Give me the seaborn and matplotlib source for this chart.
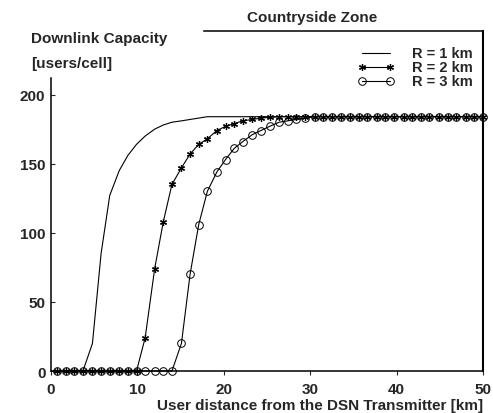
"""
Downlink capacity vs user distance, countryside zone.
"""
import pandas as pd
import seaborn as sns
import matplotlib
matplotlib.use("Agg")
import matplotlib.pyplot as plt

# distance grid [km]
distance = [0.7, 1.7, 2.7, 3.7, 4.8, 5.8, 6.8, 7.9, 8.9, 9.9,
            10.9, 12.0, 13.0, 14.0, 15.1, 16.1, 17.1, 18.1, 19.2, 20.2,
            21.2, 22.2, 23.3, 24.3, 25.3, 26.4, 27.4, 28.4, 29.4, 30.5,
            31.5, 32.5, 33.6, 34.6, 35.6, 36.6, 37.7, 38.7, 39.7, 40.8,
            41.8, 42.8, 43.8, 44.9, 45.9, 46.9, 48.0, 49.0, 50.0]

# capacity [users/cell]
cap_r1 = [0, 0, 0, 0, 20, 85, 127, 145, 156, 164,
          170, 175, 178, 180, 181, 182, 183] + [184] * 32
cap_r2 = [0] * 10 + [24, 74, 108, 135, 147, 157, 164, 168, 174, 177,
                     179, 181, 182, 183, 183.5] + [184] * 24
cap_r3 = [0] * 14 + [20, 70, 106, 130, 144, 153, 161, 166, 171, 174,
                     177, 180, 181, 182, 183] + [184] * 20

labels = ["R = 1 km", "R = 2 km", "R = 3 km"]


def main():
    sns.set_style("ticks")
    plt.rcParams["font.family"] = ["Liberation Sans", "DejaVu Sans"]
    plt.rcParams["font.weight"] = "bold"
    fs = 11

    fig = plt.figure(figsize=(4.93, 4.14), dpi=100)
    ax = fig.add_axes([0.1034, 0.1014, 0.8763, 0.8213])

    df = pd.DataFrame({"d": distance, "r1": cap_r1, "r2": cap_r2, "r3": cap_r3})

    sns.lineplot(data=df, x="d", y="r1", color="black", lw=0.8, ax=ax, label=labels[0])
    sns.lineplot(data=df, x="d", y="r2", color="black", lw=0.8, ax=ax, label=labels[1],
                 marker=(6, 2, 0), markersize=5, markeredgewidth=0.9,
                 markeredgecolor="black", clip_on=False)
    sns.lineplot(data=df, x="d", y="r3", color="black", lw=0.8, ax=ax, label=labels[2],
                 marker="o", markersize=5.5, markerfacecolor="none",
                 markeredgewidth=0.7, markeredgecolor="black", clip_on=False)

    ax.set_xlim(0, 50)
    ax.set_ylim(0, 246)
    ax.set_xticks([0, 10, 20, 30, 40, 50])
    ax.set_yticks([0, 50, 100, 150, 200])
    ax.tick_params(axis="x", direction="out", length=3, width=0.8, pad=5, labelsize=fs)
    ax.tick_params(axis="y", direction="in", length=3, width=0.8, pad=4, labelsize=fs)
    for lab in ax.get_xticklabels() + ax.get_yticklabels():
        lab.set_fontweight("bold")

    for s in ax.spines.values():
        s.set_visible(True)
        s.set_linewidth(1.1)
        s.set_color("black")
    ax.spines["right"].set_linewidth(1.5)
    # partial frame, like the original
    ax.spines["left"].set_bounds(0, 212)
    ax.spines["top"].set_bounds(17.7, 50)

    ax.set_xlabel("")
    ax.set_ylabel("")
    fig.text(0.98, 0.003, "User distance from the DSN Transmitter [km]",
             ha="right", va="bottom", fontsize=fs, fontweight="bold")
    fig.text(0.063, 0.905, "Downlink Capacity", ha="left", va="center",
             fontsize=fs, fontweight="bold")
    fig.text(0.063, 0.845, "[users/cell]", ha="left", va="center",
             fontsize=fs, fontweight="bold")
    fig.text(0.634, 0.957, "Countryside Zone", ha="center", va="center",
             fontsize=fs, fontweight="bold")

    leg = ax.legend(loc="upper right", bbox_to_anchor=(1.0, 0.985), frameon=False,
                    numpoints=2, handlelength=2.5, handletextpad=1.2,
                    labelspacing=0.0, fontsize=10.5, borderaxespad=0.3,
                    handleheight=0.5)
    for t in leg.get_texts():
        t.set_fontweight("bold")

    fig.savefig("out.png", dpi=100)


if __name__ == "__main__":
    main()
